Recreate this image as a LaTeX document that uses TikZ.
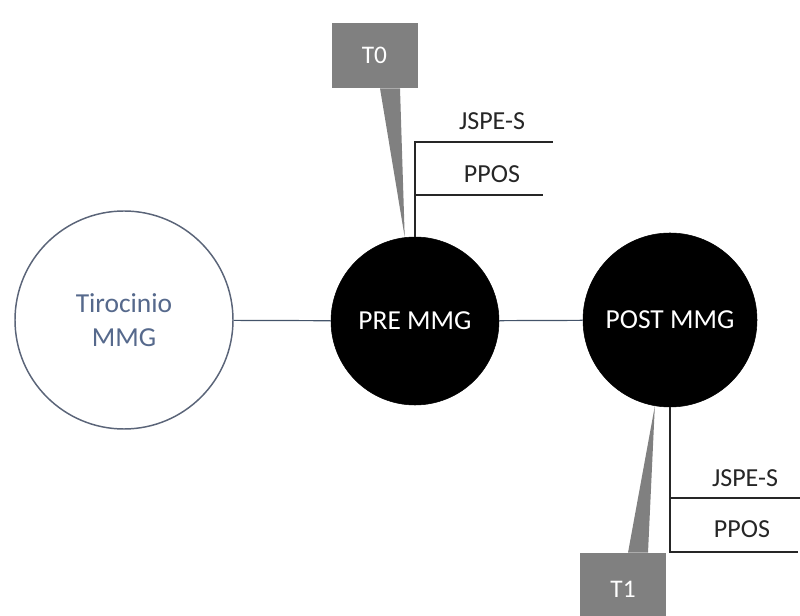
\documentclass[tikz,border=0pt]{standalone}
\usepackage{fontspec}
\setmainfont{Carlito}
\usetikzlibrary{calc}
\definecolor{boxgrey}{HTML}{808080}
\definecolor{linkblue}{HTML}{44546A}
\definecolor{outlinegrey}{HTML}{5A6478}
\definecolor{softblue}{HTML}{56698C}
\begin{document}
\begin{tikzpicture}[x=0.75pt,y=-0.75pt,
  stage/.style={circle,fill=black,draw=black,inner sep=0pt,text=white,
    font=\fontsize{20.6}{24}\selectfont},
  origin/.style={circle,draw=outlinegrey,line width=1.1pt,fill=white,inner sep=0pt,
    text=softblue,align=center,font=\fontsize{20.6}{25.5}\selectfont},
  tag/.style={rectangle,fill=boxgrey,inner sep=0pt,text=white,
    minimum width=64.5pt,font=\fontsize{19}{22}\selectfont},
  measure/.style={font=\fontsize{19.5}{23}\selectfont,text=black!85,inner sep=0pt},
  link/.style={draw=linkblue,line width=0.9pt},
  bracket/.style={draw=black!85,line width=1.1pt}
]
\useasboundingbox (0,0) rectangle (800,616);
\clip (0,0) rectangle (800,616);

% main sequence
\node[origin,minimum size=163.5pt] (tir) at (124,320) {Tirocinio\\MMG};
\node[stage,minimum size=126pt] (pre) at (415,321) {PRE MMG};
\node[stage,minimum size=130.5pt] (post) at (670,320) {POST MMG};
\draw[link] (tir) -- (pre);
\draw[link] (pre) -- (post);

% time point T0 with its measures
\node[tag,minimum height=48.75pt] (t0) at (374.5,55.5) {T0};
\fill[boxgrey] ($(t0.south)+(5.5,0)$) -- (pre.97) -- ($(t0.south)+(25.5,0)$) -- cycle;
\coordinate (m0a) at (553,142);
\coordinate (m0b) at (543,195);
\draw[bracket] (pre.north) -- (pre.north |- m0a) -- (m0a);
\draw[bracket] (pre.north |- m0b) -- (m0b);
\node[measure] (js0) at (492,121) {JSPE-S};
\node[measure] (pp0) at (492,174) {PPOS};

% time point T1 with its measures
\node[tag,minimum height=54pt] (t1) at (623,589) {T1};
\fill[boxgrey] ($(t1.north)+(5,0)$) -- (post.260) -- ($(t1.north)+(25,0)$) -- cycle;
\coordinate (m1a) at (800,498);
\coordinate (m1b) at (798,552);
\draw[bracket] (post.south) -- (post.south |- m1b) -- (m1b);
\draw[bracket] (post.south |- m1a) -- (m1a);
\node[measure] (js1) at (745,478) {JSPE-S};
\node[measure] (pp1) at (742,529) {PPOS};
\end{tikzpicture}
\end{document}
